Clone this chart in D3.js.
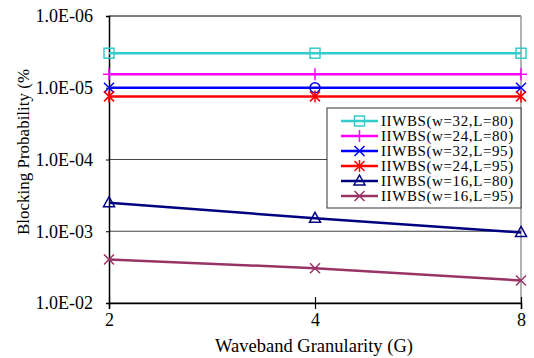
<!DOCTYPE html>
<html>
<head>
<meta charset="utf-8">
<script src="https://cdn.jsdelivr.net/npm/d3@7"></script>
<style>
body { margin: 0; background: #fff; }
svg text { font-family: "Liberation Serif", "Times New Roman", serif !important; }
</style>
</head>
<body>
<svg id="chart" width="534" height="358"></svg>
<script>
var svg_width = 534, svg_height = 358;
var margin = { top: 16, right: 13, bottom: 55, left: 109 };
var width = svg_width - margin.left - margin.right;
var height = svg_height - margin.top - margin.bottom;

// data
var granularity = ["2", "4", "8"];
var yTicks = [1e-6, 1e-5, 1e-4, 1e-3, 1e-2];
var yTickLabels = ["1.0E-06", "1.0E-05", "1.0E-04", "1.0E-03", "1.0E-02"];
var seriesNames = ["IIWBS(w=32,L=80)", "IIWBS(w=24,L=80)", "IIWBS(w=32,L=95)",
	"IIWBS(w=24,L=95)", "IIWBS(w=16,L=80)", "IIWBS(w=16,L=95)"];
var w32L80 = [3.3e-6, 3.3e-6, 3.3e-6];
var w24L80 = [6.5e-6, 6.5e-6, 6.5e-6];
var w32L95 = [1.0e-5, 1.0e-5, 1.0e-5];
var w24L95 = [1.32e-5, 1.32e-5, 1.32e-5];
var w16L80 = [4.0e-4, 6.6e-4, 1.04e-3];
var w16L95 = [2.47e-3, 3.27e-3, 4.86e-3];
var seriesValues = [w32L80, w24L80, w32L95, w24L95, w16L80, w16L95];
var colors = ["#33cccc", "#ff00ff", "#0000ff", "#ff0000", "#000080", "#993366"];
var markers = [
	["square", "square", "square"],
	["plus", "plus", "plus"],
	["x", "circle", "x"],
	["star", "star", "star"],
	["triangle", "triangle", "triangle"],
	["x", "x", "x"]
];
var legendMarkers = ["square", "plus", "x", "star", "triangle", "x"];

var x = d3.scalePoint().domain(granularity).range([0, width]);
var y = d3.scaleLog().domain([1e-6, 1e-2]).range([0, height]);

var svg = d3.select("#chart");
var g = svg.append("g")
	.attr("transform", "translate(" + margin.left + "," + margin.top + ")");

// grid lines
g.selectAll(".grid")
	.data(yTicks)
	.enter().append("line")
	.attr("x1", 0).attr("x2", width)
	.attr("y1", function (d) { return y(d); })
	.attr("y2", function (d) { return y(d); })
	.attr("stroke", function (d, i) { return i == 0 ? "#000" : "#444"; })
	.attr("stroke-width", 1);

// right border
g.append("line")
	.attr("x1", width).attr("x2", width)
	.attr("y1", 0).attr("y2", height)
	.attr("stroke", "#999").attr("stroke-width", 1.5);

// y axis
var yAxis = g.append("g")
	.call(d3.axisLeft(y).tickValues(yTicks)
		.tickFormat(function (d, i) { return yTickLabels[i]; })
		.tickSize(3).tickPadding(13));
yAxis.select(".domain").attr("stroke-width", 1.5);
yAxis.selectAll("text").attr("font-size", 18).attr("fill", "#000");

// x axis
var xAxis = g.append("g")
	.attr("transform", "translate(0," + height + ")")
	.call(d3.axisBottom(x).tickSizeOuter(0).tickSize(6).tickPadding(4));
xAxis.select(".domain").attr("stroke-width", 1.5);
xAxis.selectAll(".tick line").attr("y1", -6).attr("y2", 6).attr("stroke-width", 1.2);
xAxis.selectAll("text").attr("font-size", 18).attr("fill", "#000");

// series lines
var line = d3.line()
	.x(function (d, i) { return x(granularity[i]); })
	.y(function (d) { return y(d); });

function drawMarker(sel, type, cx, cy, color) {
	var s = 5;
	if (type == "square") {
		sel.append("rect").attr("x", cx - s).attr("y", cy - s)
			.attr("width", 2 * s).attr("height", 2 * s)
			.attr("fill", "none").attr("stroke", color).attr("stroke-width", 1.5);
	} else if (type == "plus") {
		sel.append("path").attr("d", "M" + cx + "," + (cy - 6) + "V" + (cy + 6) + "M" + (cx - 6) + "," + cy + "H" + (cx + 6))
			.attr("stroke", color).attr("stroke-width", 1.5).attr("fill", "none");
	} else if (type == "x") {
		sel.append("path").attr("d", "M" + (cx - s) + "," + (cy - s) + "L" + (cx + s) + "," + (cy + s) + "M" + (cx - s) + "," + (cy + s) + "L" + (cx + s) + "," + (cy - s))
			.attr("stroke", color).attr("stroke-width", 1.5).attr("fill", "none");
	} else if (type == "star") {
		sel.append("path").attr("d", "M" + (cx - s) + "," + (cy - s) + "L" + (cx + s) + "," + (cy + s) + "M" + (cx - s) + "," + (cy + s) + "L" + (cx + s) + "," + (cy - s) + "M" + cx + "," + (cy - 6) + "V" + (cy + 6))
			.attr("stroke", color).attr("stroke-width", 1.5).attr("fill", "none");
	} else if (type == "circle") {
		sel.append("circle").attr("cx", cx).attr("cy", cy).attr("r", s)
			.attr("fill", "none").attr("stroke", color).attr("stroke-width", 1.5);
	} else if (type == "triangle") {
		sel.append("path").attr("d", "M" + cx + "," + (cy - 6) + "L" + (cx + 5.5) + "," + (cy + 4) + "L" + (cx - 5.5) + "," + (cy + 4) + "Z")
			.attr("stroke", color).attr("stroke-width", 1.5).attr("fill", "none");
	}
}

seriesValues.forEach(function (vals, k) {
	var sg = g.append("g");
	sg.append("path")
		.datum(vals)
		.attr("fill", "none")
		.attr("stroke", colors[k])
		.attr("stroke-width", 2.5)
		.attr("d", line);
	vals.forEach(function (v, i) {
		drawMarker(sg, markers[k][i], x(granularity[i]), y(v), colors[k]);
	});
});

// legend
var lg = svg.append("g").attr("transform", "translate(327,108)");
lg.append("rect")
	.attr("width", 194).attr("height", 100)
	.attr("fill", "#fff").attr("stroke", "#333").attr("stroke-width", 1);
seriesNames.forEach(function (name, k) {
	var ly = 13 + k * 15;
	lg.append("line").attr("x1", 14).attr("x2", 51).attr("y1", ly).attr("y2", ly)
		.attr("stroke", colors[k]).attr("stroke-width", 2.5);
	drawMarker(lg, legendMarkers[k], 32.5, ly, colors[k]);
	lg.append("text").attr("x", 54).attr("y", ly + 5)
		.attr("font-size", 15).attr("letter-spacing", 0.6).text(name);
});

// axis titles
svg.append("text")
	.attr("transform", "translate(29," + 152 + ") rotate(-90)")
	.attr("text-anchor", "middle")
	.attr("font-size", 17)
	.text("Blocking Probability (%");

svg.append("text")
	.attr("x", 314)
	.attr("y", 352)
	.attr("text-anchor", "middle")
	.attr("font-size", 18.5)
	.text("Waveband Granularity (G)");
</script>
</body>
</html>
